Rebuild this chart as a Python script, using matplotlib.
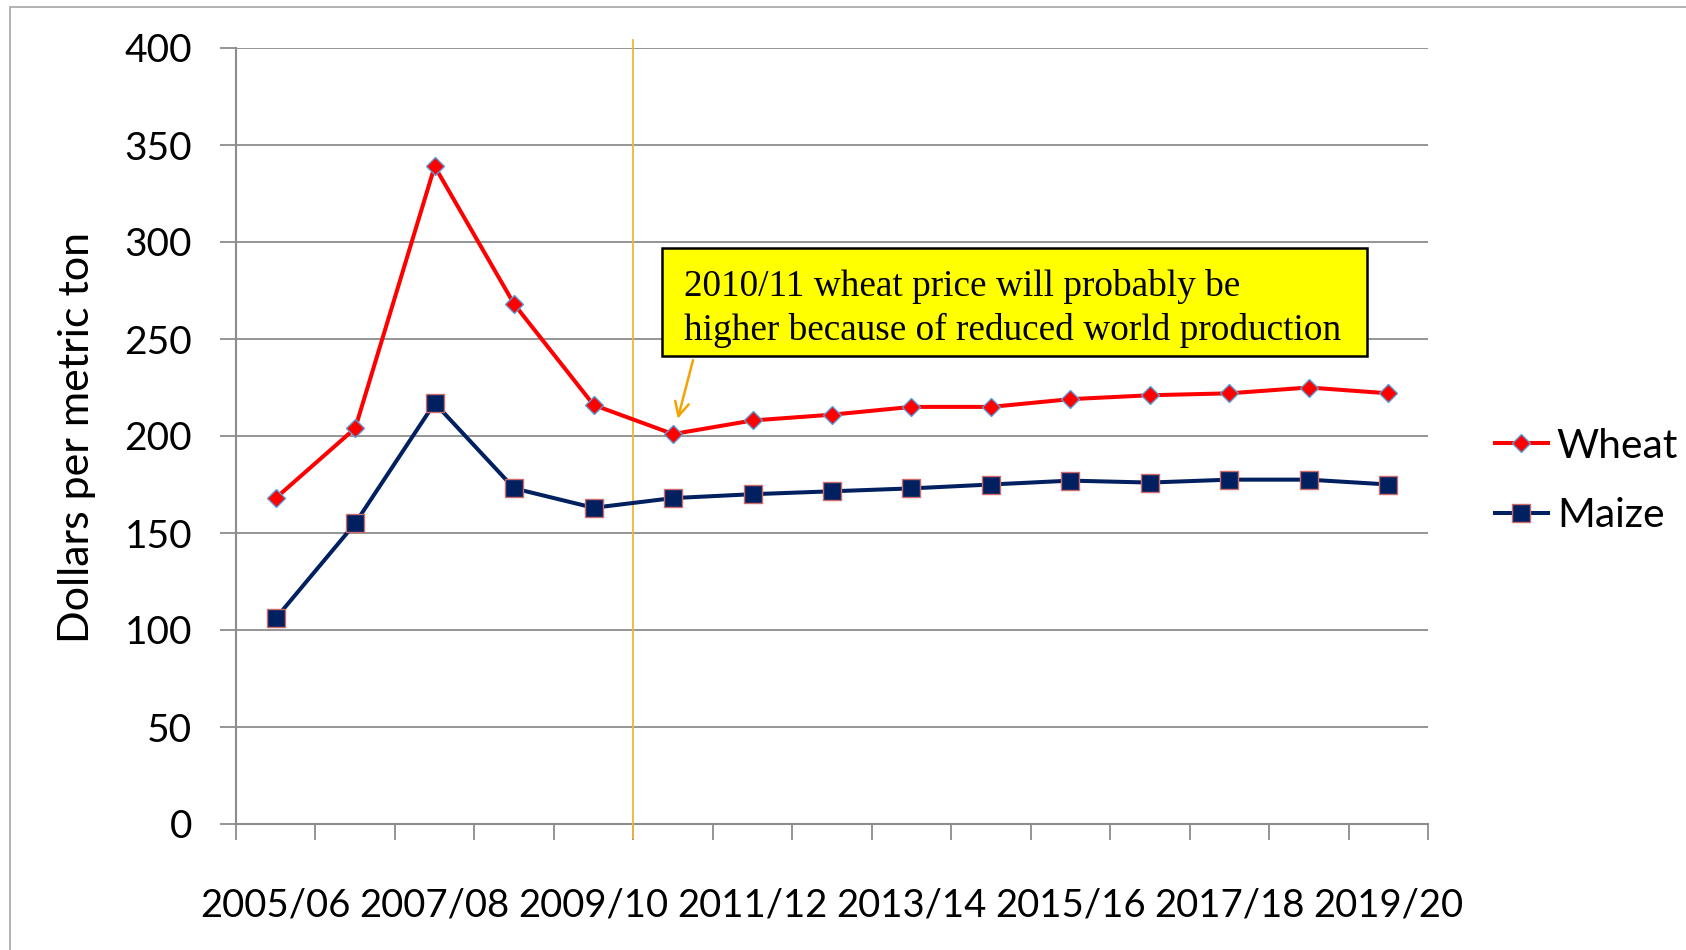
import matplotlib.pyplot as plt
from matplotlib.patches import Rectangle

plt.rcParams['font.family'] = ['Lato', 'DejaVu Sans']

seasons = ['2005/06', '2006/07', '2007/08', '2008/09', '2009/10', '2010/11',
           '2011/12', '2012/13', '2013/14', '2014/15', '2015/16', '2016/17',
           '2017/18', '2018/19', '2019/20']
wheat = [168, 204, 339, 268, 216, 201, 208, 211, 215, 215, 219, 221, 222, 225, 222]
maize = [106, 155, 217, 173, 163, 168, 170, 171.5, 173, 175, 177, 176, 177.5, 177.5, 175]
note_lines = ['2010/11 wheat price will probably be',
              'higher because of reduced world production']

grey = '#8c8c8c'

fig = plt.figure(figsize=(16.86, 9.5), dpi=100)
ax = fig.add_axes([236/1686, 1-824/950, (1428-236)/1686, (824-48)/950])

# outer chart frame (cut off at right and bottom like the slide)
fig.patches.append(Rectangle((10/1686, -0.1), 1.2, 0.1+1-7/950, transform=fig.transFigure,
                             fill=False, ec='#a6a6a6', lw=1.2))

x = list(range(len(seasons)))
ax.plot(x, wheat, '-D', color='#ff0000', lw=2.9, ms=9.5, mfc='#ff0000',
        mec='#5b9bd5', mew=1.0, label='Wheat', zorder=4)
ax.plot(x, maize, '-s', color='#002060', lw=2.9, ms=13, mfc='#002060',
        mec='#d06b6b', mew=1.0, label='Maize', zorder=4)

ax.set_xlim(-0.5, len(seasons)-0.5)
ax.set_ylim(0, 400)
ax.set_yticks(range(0, 401, 50))
ax.grid(axis='y', color=grey, lw=1.3)
ax.set_axisbelow(True)
for s in ['top', 'right']:
    ax.spines[s].set_visible(False)
for s in ['left', 'bottom']:
    ax.spines[s].set_color(grey)
    ax.spines[s].set_linewidth(1.5)

ax.tick_params(axis='y', length=11.5, width=1.3, color=grey, pad=20, labelsize=28)
ax.set_xticks(x[::2])
ax.set_xticklabels(seasons[::2])
ax.set_xticks([i-0.5 for i in range(len(seasons)+1)], minor=True)
ax.tick_params(axis='x', which='major', length=0, pad=46, labelsize=27.5)
ax.tick_params(axis='x', which='minor', length=11.5, width=1.3, color=grey)

fig.text(77/1686, 1-437/950, 'Dollars per metric ton', rotation=90,
         ha='center', va='center', fontsize=31)

# forecast divider
ax.axvline(4.5, ymin=-0.018, ymax=1.01, color='#f2b43a', lw=1.3, clip_on=False, zorder=3)

# note box with arrow
ax.add_patch(Rectangle((4.86, 241), 8.87, 56, fc='#ffff00', ec='black', lw=1.8, zorder=5))
ax.text(5.14, 272, note_lines[0], family='Liberation Serif', fontsize=26.8,
        va='baseline', zorder=6)
ax.text(5.14, 249.5, note_lines[1], family='Liberation Serif', fontsize=26.8,
        va='baseline', zorder=6)
ax.annotate('', xy=(5.05, 207.5), xytext=(5.26, 240.5),
            arrowprops=dict(arrowstyle='->', color='#f5a300', lw=1.8,
                            mutation_scale=25), zorder=6)

ax.legend(loc='center left', bbox_to_anchor=(1495/1686, 1-481/950),
          bbox_transform=fig.transFigure, frameon=False, fontsize=29.3,
          handlelength=1.3, handletextpad=0.22, labelspacing=0.8,
          borderpad=0, borderaxespad=0, numpoints=1)

fig.savefig('out.png', dpi=100)
